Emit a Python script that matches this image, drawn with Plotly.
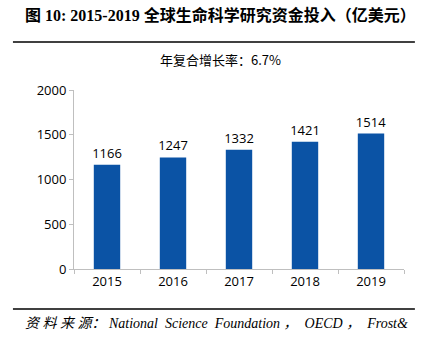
import plotly.graph_objects as go

years = ["2015", "2016", "2017", "2018", "2019"]
funding = [1166, 1247, 1332, 1421, 1514]
y_ticks = [0, 500, 1000, 1500, 2000]

title_text = "图 10: 2015-2019 全球生命科学研究资金投入（亿美元）"
subtitle_text = "年复合增长率：6.7%"
source_text = "资 料 来 源： National  Science  Foundation ，  OECD ，  Frost&"

bar_color = "#0B53A5"
axis_color = "#BFBFBF"
num_font = "Open Sans, Noto Sans CJK SC, sans-serif"

fig = go.Figure(
    go.Bar(
        x=years,
        y=funding,
        marker=dict(color=bar_color, line=dict(width=0)),
        width=0.4,
        text=[str(v) for v in funding],
        textposition="outside",
        constraintext="none",
        textfont=dict(family=num_font, size=13, color="#000000"),
        cliponaxis=False,
    )
)

fig.update_layout(
    width=430,
    height=339,
    margin=dict(l=74, r=26, t=90, b=70),
    paper_bgcolor="white",
    plot_bgcolor="white",
    showlegend=False,
    font=dict(family=num_font, size=13, color="#000000"),
    xaxis=dict(
        type="category",
        showgrid=False,
        showline=True,
        linecolor=axis_color,
        linewidth=1,
        ticks="outside",
        tickson="boundaries",
        ticklen=4,
        tickcolor=axis_color,
        tickfont=dict(family=num_font, size=13, color="#000000"),
    ),
    yaxis=dict(
        range=[0, 2000],
        tickvals=y_ticks,
        showgrid=False,
        zeroline=False,
        showline=True,
        linecolor=axis_color,
        linewidth=1,
        ticks="outside",
        ticklen=4,
        tickcolor=axis_color,
        tickfont=dict(family=num_font, size=13, color="#000000"),
    ),
)

# Title, subtitle and source line
fig.add_annotation(
    text="<b>" + title_text + "</b>",
    xref="paper", yref="paper", x=-0.1545, y=1.419,
    xanchor="left", yanchor="middle", showarrow=False,
    font=dict(family="Liberation Serif, Noto Sans CJK SC, serif", size=16, color="#000000"),
)
fig.add_annotation(
    text=subtitle_text,
    xref="paper", yref="paper", x=0.445, y=1.168,
    xanchor="center", yanchor="middle", showarrow=False,
    font=dict(family="Noto Sans CJK SC, sans-serif", size=13, color="#000000"),
)
fig.add_annotation(
    text="<i>" + source_text.replace(" ", "&nbsp;") + "</i>",
    xref="paper", yref="paper", x=-0.1545, y=-0.307,
    xanchor="left", yanchor="middle", showarrow=False,
    font=dict(family="Liberation Serif, Noto Sans CJK SC, serif", size=14, color="#000000"),
)

# Rules under the title and above the source
for yv in (1.268, -0.2235):
    fig.add_shape(
        type="line", xref="paper", yref="paper",
        x0=-0.185, x1=1.033, y0=yv, y1=yv,
        line=dict(color="#000000", width=1.5),
    )

fig.write_html("out.html")
